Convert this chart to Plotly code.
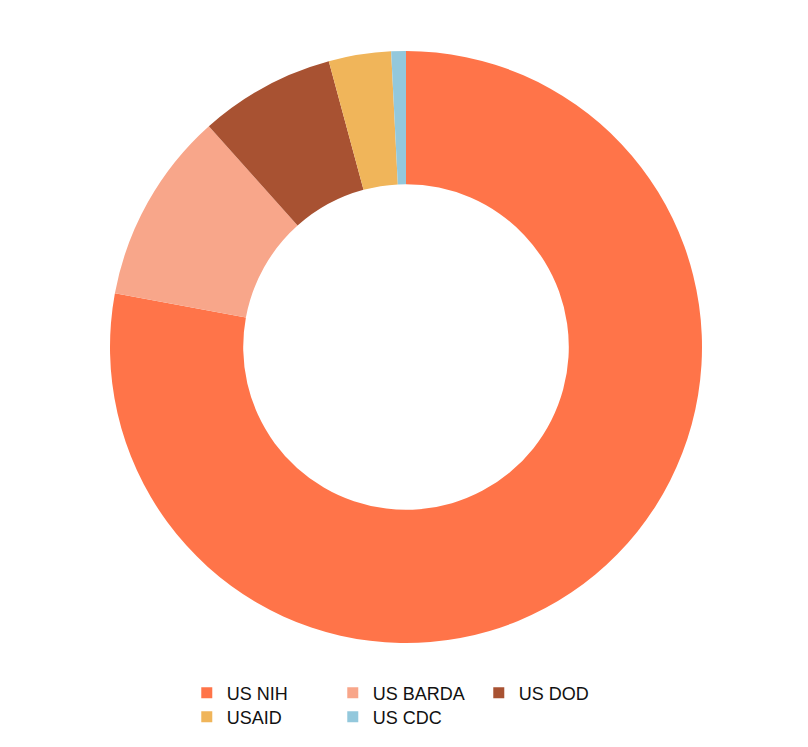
import plotly.graph_objects as go

labels = ["US NIH", "US BARDA", "US DOD", "USAID", "US CDC"]
values = [77.9, 10.5, 7.4, 3.4, 0.8]
colors = ["#FF7449", "#F8A68A", "#A85232", "#F0B55A", "#93C8DC"]
legend_rows = ["legend", "legend", "legend", "legend2", "legend2"]

fig = go.Figure(go.Pie(
    labels=labels,
    values=values,
    hole=0.55,
    sort=False,
    direction="clockwise",
    rotation=0,
    marker=dict(colors=colors, line=dict(width=0)),
    textinfo="none",
    hoverinfo="label+percent",
    showlegend=False,
))

# legend entries (one per slice), split over two rows
for lab, col, lg in zip(labels, colors, legend_rows):
    fig.add_trace(go.Scatter(
        x=[None], y=[None], mode="markers", name=lab,
        marker=dict(symbol="square", size=11, color=col),
        legend=lg, showlegend=True, hoverinfo="skip",
    ))

legend_font = dict(family="Liberation Sans, Arial, sans-serif", size=18, color="#111111")
common = dict(
    orientation="h",
    traceorder="normal",
    x=0.2232,
    xanchor="left",
    yanchor="top",
    entrywidth=101,
    entrywidthmode="pixels",
    font=legend_font,
    bgcolor="rgba(0,0,0,0)",
)

fig.update_layout(
    width=808,
    height=747,
    margin=dict(l=2, r=14, t=43, b=112),
    paper_bgcolor="white",
    plot_bgcolor="white",
    showlegend=True,
    xaxis=dict(visible=False),
    yaxis=dict(visible=False),
    legend=dict(y=-0.0532, **common),
    legend2=dict(y=-0.0938, **common),
)

fig.write_html("out.html")
